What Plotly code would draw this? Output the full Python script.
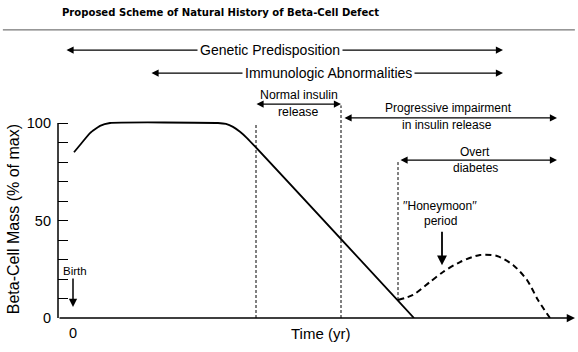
import plotly.graph_objects as go

# ---- data (time in arbitrary years, mass in % of max) ----
main_t = [0.1, 0.7, 1.7, 2.7, 3.7, 14.5, 15.3, 16.0, 16.7, 17.4, 34.1]
main_m = [85, 88.7, 94.8, 98.5, 100, 100, 99.5, 98, 95.5, 92.3, 0]

honey_t = [32.5, 34.0, 35.7, 37.0, 38.7, 40.7, 42.4, 44.0, 45.4, 46.5, 47.7]
honey_m = [9.2, 11.8, 18.5, 23.6, 28.7, 32.3, 31.8, 27.2, 19.5, 9.2, 0]

marker_t = [18.3, 26.8, 32.5]
marker_bottom = [0, 0, 9.2]
marker_top = [100, 109, 81]

y_ticks = [0, 10, 20, 30, 40, 50, 60, 70, 80, 90, 100]
y_ticklabels = ["0", "", "", "", "", "50", "", "", "", "", "100"]

genetic_span = (-0.8, 43.0)
immuno_span = (7.7, 43.0)
normal_span = (18.2, 26.8)
progressive_span = (27.0, 48.4)
overt_span = (32.6, 48.4)

FONT = "Liberation Sans, Arial, Helvetica, sans-serif"

fig = go.Figure()

fig.add_trace(go.Scatter(x=main_t, y=main_m, mode="lines",
                         line=dict(color="black", width=1.8, shape="spline", smoothing=0.4),
                         hoverinfo="skip", showlegend=False))
fig.add_trace(go.Scatter(x=honey_t, y=honey_m, mode="lines",
                         line=dict(color="black", width=2, dash="6px,4px", shape="spline", smoothing=0.8),
                         hoverinfo="skip", showlegend=False))

shapes = []
for t, b, top in zip(marker_t, marker_bottom, marker_top):
    shapes.append(dict(type="line", xref="x", yref="y", x0=t, x1=t, y0=b, y1=top,
                       line=dict(color="black", width=1, dash="3px,2px")))
# y axis line (only up to 100)
shapes.append(dict(type="line", xref="paper", yref="y", x0=0, x1=0, y0=0, y1=100,
                   line=dict(color="black", width=1.5)))
# horizontal rule under title
shapes.append(dict(type="line", xref="paper", yref="paper", x0=-0.106, x1=0.994, y0=0.906, y1=0.906,
                   line=dict(color="#555", width=1)))

ann = []

def darrow(x0, x1, y, w=1.3):
    ann.append(dict(x=x1, y=y, ax=x0, ay=y, xref="x", yref="y", axref="x", ayref="y",
                    text="", showarrow=True, arrowhead=2, startarrowhead=2, arrowside="end+start",
                    arrowsize=1.1, startarrowsize=1.1, arrowwidth=w, arrowcolor="black",
                    standoff=0, startstandoff=0))

def txt(x, y, s, size=12, bg=None, yref="y", **kw):
    d = dict(x=x, y=y, xref="x", yref=yref, text=s, showarrow=False,
             xanchor="center", yanchor="middle",
             font=dict(family=FONT, size=size, color="black"))
    if bg:
        d["bgcolor"] = bg
        d["borderpad"] = 2
    d.update(kw)
    ann.append(d)

darrow(*genetic_span, 137.4)
darrow(*immuno_span, 125.6)
darrow(*normal_span, 109.7)
darrow(*progressive_span, 102.6)
darrow(*overt_span, 81)

txt(19.7, 137.4, "Genetic Predisposition", size=14, bg="white")
txt(25.5, 125.6, "Immunologic Abnormalities", size=14, bg="white")
txt(22.6, 114.6, "Normal insulin", size=12.3)
txt(22.5, 105.4, "release", size=12.3)
txt(37.5, 107.9, "Progressive impairment", size=12)
txt(37.4, 99.0, "in insulin release", size=12)
txt(40.2, 85.3, "Overt", size=12)
txt(40.2, 77.0, "diabetes", size=12)
txt(36.7, 57.2, "\u2032\u2032Honeymoon\u2032\u2032", size=12)
txt(36.7, 50.0, "period", size=12)
txt(0.2, 24.2, "Birth", size=11.5)
txt(24.7, -0.05, "Time (yr)", size=15, yref="paper")
txt(0, -0.047, "0", size=14.5, yref="paper")

# honeymoon arrow
ann.append(dict(x=36.9, y=27, ax=36.9, ay=45, xref="x", yref="y", axref="x", ayref="y",
                text="", showarrow=True, arrowhead=2, arrowsize=1.1, arrowwidth=1.8,
                arrowcolor="black", standoff=0))
# birth arrow
ann.append(dict(x=0, y=5.6, ax=0, ay=21, xref="x", yref="y", axref="x", ayref="y",
                text="", showarrow=True, arrowhead=2, arrowsize=1.1, arrowwidth=1.5,
                arrowcolor="black", standoff=0))
# x axis with arrow
ann.append(dict(x=50.2, y=0, ax=-1.5, ay=0, xref="x", yref="y", axref="x", ayref="y",
                text="", showarrow=True, arrowhead=2, arrowsize=1.1, arrowwidth=1.5,
                arrowcolor="black", standoff=0))

# title
ann.append(dict(x=0.004, y=0.96, xref="paper", yref="paper", xanchor="left", yanchor="middle",
                text="<b>Proposed Scheme of Natural History of Beta-Cell Defect</b>", showarrow=False,
                font=dict(family="Liberation Sans Narrow, DejaVu Sans Condensed, Arial Narrow, sans-serif",
                          size=11.2, color="black")))
# y title
ann.append(dict(x=-0.085, y=0.31, xref="paper", yref="paper", xanchor="center", yanchor="middle",
                text="Beta-Cell Mass (% of max)", textangle=-90, showarrow=False,
                font=dict(family=FONT, size=16, color="black")))

fig.update_layout(
    width=578, height=352,
    margin=dict(l=58, r=0, t=0, b=34),
    paper_bgcolor="white", plot_bgcolor="white",
    shapes=shapes, annotations=ann,
    xaxis=dict(range=[-1.5, 50.5], showgrid=False, zeroline=False, showline=False,
               showticklabels=False, ticks=""),
    yaxis=dict(range=[0, 163.08], showgrid=False, zeroline=False, showline=False,
               tickvals=y_ticks, ticktext=y_ticklabels, ticks="inside", ticklen=10, tickwidth=1.3,
               tickcolor="black", ticklabelstandoff=6,
               tickfont=dict(family=FONT, size=14.5, color="black")),
)

fig.write_html("out.html")
